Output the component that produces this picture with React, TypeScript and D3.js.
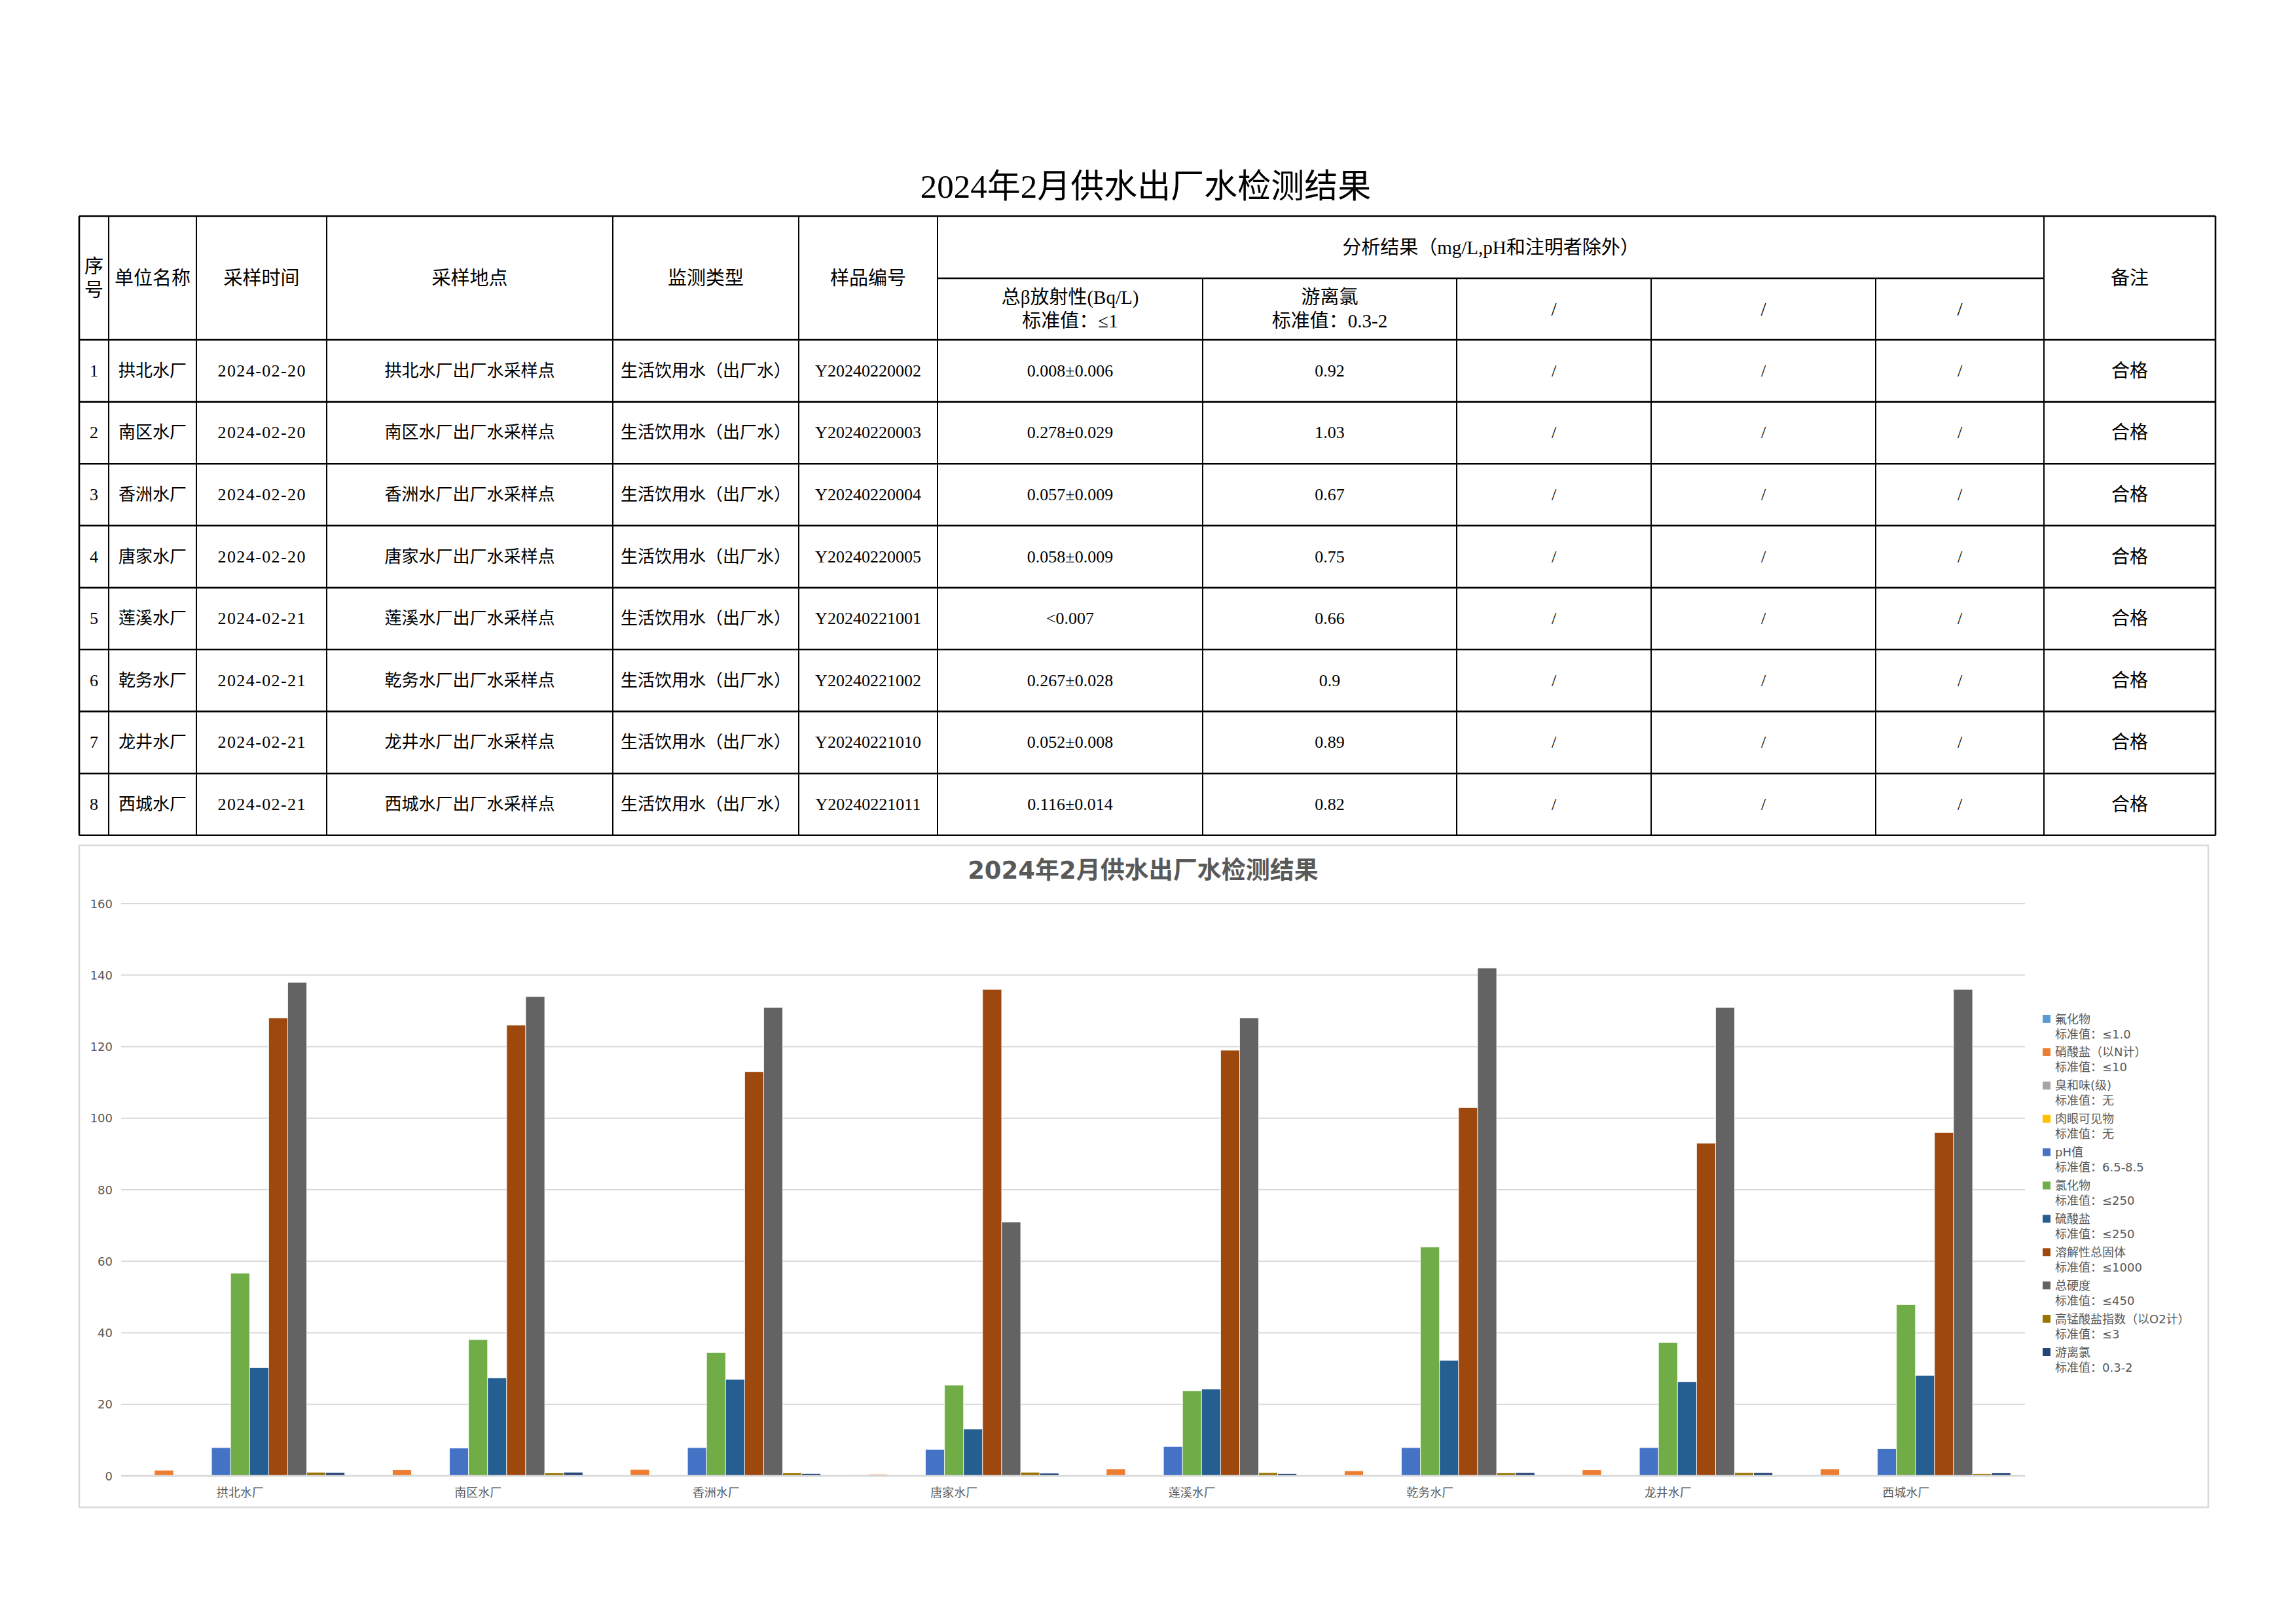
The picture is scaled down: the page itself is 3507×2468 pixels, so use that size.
import React, { useEffect } from 'react';
import * as d3 from 'd3';

// ---------- DATA ----------
const plants = ['拱北水厂', '南区水厂', '香洲水厂', '唐家水厂', '莲溪水厂', '乾务水厂', '龙井水厂', '西城水厂'];
const sampleDates = ['2024-02-20', '2024-02-20', '2024-02-20', '2024-02-20', '2024-02-21', '2024-02-21', '2024-02-21', '2024-02-21'];
const samplePoints = ['拱北水厂出厂水采样点', '南区水厂出厂水采样点', '香洲水厂出厂水采样点', '唐家水厂出厂水采样点', '莲溪水厂出厂水采样点', '乾务水厂出厂水采样点', '龙井水厂出厂水采样点', '西城水厂出厂水采样点'];
const monitorTypes = ['生活饮用水（出厂水）', '生活饮用水（出厂水）', '生活饮用水（出厂水）', '生活饮用水（出厂水）', '生活饮用水（出厂水）', '生活饮用水（出厂水）', '生活饮用水（出厂水）', '生活饮用水（出厂水）'];
const sampleIds = ['Y20240220002', 'Y20240220003', 'Y20240220004', 'Y20240220005', 'Y20240221001', 'Y20240221002', 'Y20240221010', 'Y20240221011'];
const betaValues = ['0.008±0.006', '0.278±0.029', '0.057±0.009', '0.058±0.009', '<0.007', '0.267±0.028', '0.052±0.008', '0.116±0.014'];
const chlorineText = ['0.92', '1.03', '0.67', '0.75', '0.66', '0.9', '0.89', '0.82'];
const remarks = ['合格', '合格', '合格', '合格', '合格', '合格', '合格', '合格'];

const seriesNames = ['氟化物', '硝酸盐（以N计）', '臭和味(级)', '肉眼可见物', 'pH值', '氯化物', '硫酸盐', '溶解性总固体', '总硬度', '高锰酸盐指数（以O2计）', '游离氯'];
const seriesStandards = ['标准值：≤1.0', '标准值：≤10', '标准值：无', '标准值：无', '标准值：6.5-8.5', '标准值：≤250', '标准值：≤250', '标准值：≤1000', '标准值：≤450', '标准值：≤3', '标准值：0.3-2'];
const seriesColors = ['#5B9BD5', '#ED7D31', '#A5A5A5', '#FFC000', '#4472C4', '#70AD47', '#255E91', '#9E480E', '#636363', '#997300', '#264478'];

const fluoride = [0, 0, 0, 0.2, 0, 0, 0.2, 0];
const nitrate = [1.6, 1.7, 1.8, 0.4, 1.9, 1.4, 1.7, 1.9];
const odor = [0, 0, 0, 0, 0, 0, 0, 0];
const visibleMatter = [0, 0, 0, 0, 0, 0, 0, 0];
const ph = [7.9, 7.8, 7.9, 7.4, 8.2, 7.9, 7.9, 7.6];
const chloride = [56.7, 38.1, 34.5, 25.4, 23.8, 64.0, 37.3, 47.9];
const sulfate = [30.3, 27.4, 27.0, 13.1, 24.3, 32.3, 26.3, 28.1];
const tds = [128, 126, 113, 136, 119, 103, 93, 96];
const hardness = [138, 134, 131, 71, 128, 142, 131, 136];
const permanganate = [1.0, 0.8, 0.8, 1.0, 0.9, 0.8, 0.9, 0.6];
const freeChlorine = [0.92, 1.03, 0.67, 0.75, 0.66, 0.9, 0.89, 0.82];

const seriesValues = [fluoride, nitrate, odor, visibleMatter, ph, chloride, sulfate, tds, hardness, permanganate, freeChlorine];
const yTicks = [0, 20, 40, 60, 80, 100, 120, 140, 160];

const pageTitle = '2024年2月供水出厂水检测结果';
const chartTitle = '2024年2月供水出厂水检测结果';

// ---------- LAYOUT ----------
const W = 3507;
const H = 2468;
const tableFont = '"Liberation Serif", "Noto Sans CJK SC", serif';
const chartFont = '"DejaVu Sans", "Noto Sans CJK SC", sans-serif';

const cols = [121, 166, 300, 499, 936, 1220, 1432, 1837, 2225, 2522, 2865, 3122, 3384];
const tTop = 330;
const tMid = 425;
const tHead = 519;
const rowH = 94.6;

const plotL = 185;
const plotR = 3093;
const plotTop = 1380;
const plotBottom = 2254;

export default function App() {
  useEffect(() => {
    document.body.style.margin = '0';
    document.body.style.overflow = 'hidden';
  }, []);

  const x0 = d3.scaleBand<string>().domain(plants).range([plotL, plotR]).paddingInner(0.12).paddingOuter(0.06);
  const x1 = d3.scaleBand<number>().domain(d3.range(seriesNames.length)).range([0, x0.bandwidth()]).padding(0);
  const y = d3.scaleLinear().domain([0, 160]).range([plotBottom, plotTop]);

  const tableBottom = tHead + rowH * plants.length;
  const cx = (i: number) => (cols[i] + cols[i + 1]) / 2;
  const rowCenter = (r: number) => tHead + rowH * (r + 0.5);

  const headerLeft: { c: number; lines: string[] }[] = [
    { c: 0, lines: ['序', '号'] },
    { c: 1, lines: ['单位名称'] },
    { c: 2, lines: ['采样时间'] },
    { c: 3, lines: ['采样地点'] },
    { c: 4, lines: ['监测类型'] },
    { c: 5, lines: ['样品编号'] },
  ];
  const subHeaders: string[][] = [
    ['总β放射性(Bq/L)', '标准值：≤1'],
    ['游离氯', '标准值：0.3-2'],
    ['/'],
    ['/'],
    ['/'],
  ];

  return (
    <div style={{ position: 'fixed', left: 0, top: 0 }}>
      <svg width={W} height={H} style={{ display: 'block', background: '#fff' }}>
        <rect x={0} y={0} width={W} height={H} fill="#fff" />
        {/* Page title */}
        <text x={1750} y={285} textAnchor="middle" dominantBaseline="central" fontFamily={tableFont} fontSize={51} fill="#000">
          {pageTitle}
        </text>

        {/* Table lines */}
        <g stroke="#000" fill="none">
          <line x1={cols[0]} x2={cols[12]} y1={tTop} y2={tTop} strokeWidth={2.6} />
          <line x1={cols[6]} x2={cols[11]} y1={tMid} y2={tMid} strokeWidth={2.4} />
          {d3.range(plants.length + 1).map((r) => (
            <line key={'h' + r} x1={cols[0]} x2={cols[12]} y1={tHead + r * rowH} y2={tHead + r * rowH} strokeWidth={2.6} />
          ))}
          {cols.map((c, i) => {
            const full = i <= 6 || i >= 11;
            return (
              <line
                key={'v' + i}
                x1={c}
                x2={c}
                y1={full ? tTop : tMid}
                y2={tableBottom}
                strokeWidth={i === 0 || i === 12 ? 2.6 : 2}
              />
            );
          })}
        </g>

        {/* Table header text */}
        <g fontFamily={tableFont} fontSize={29} fill="#000" textAnchor="middle">
          {headerLeft.map((h) =>
            h.lines.map((ln, k) => (
              <text key={h.c + '-' + k} x={cx(h.c)} y={(tTop + tHead) / 2 + (k - (h.lines.length - 1) / 2) * 36} dominantBaseline="central">
                {ln}
              </text>
            ))
          )}
          <text x={(cols[6] + cols[11]) / 2} y={(tTop + tMid) / 2} dominantBaseline="central">
            分析结果（mg/L,pH和注明者除外）
          </text>
          {subHeaders.map((lines, j) =>
            lines.map((ln, k) => (
              <text key={'s' + j + k} x={cx(6 + j)} y={(tMid + tHead) / 2 + (k - (lines.length - 1) / 2) * 36} dominantBaseline="central">
                {ln}
              </text>
            ))
          )}
          <text x={cx(11)} y={(tTop + tHead) / 2} dominantBaseline="central">
            备注
          </text>
        </g>

        {/* Table body */}
        <g fontFamily={tableFont} fontSize={26} fill="#000" textAnchor="middle">
          {plants.map((p, r) => {
            const cells = [String(r + 1), p, sampleDates[r], samplePoints[r], monitorTypes[r], sampleIds[r], betaValues[r], chlorineText[r], '/', '/', '/', remarks[r]];
            return cells.map((t, c) => (
              <text
                key={r + '-' + c}
                x={cx(c)}
                y={rowCenter(r)}
                dominantBaseline="central"
                fontSize={c === 11 ? 28 : 26}
                textLength={c === 2 ? 134 : undefined}
                lengthAdjust={c === 2 ? 'spacing' : undefined}
              >
                {t}
              </text>
            ));
          })}
        </g>

        {/* Chart box */}
        <rect x={121} y={1291} width={3252} height={1011} fill="#fff" stroke="#d9d9d9" strokeWidth={2.5} />
        <text x={1746} y={1329} textAnchor="middle" dominantBaseline="central" fontFamily={chartFont} fontWeight="bold" fontSize={37} fill="#595959">
          {chartTitle}
        </text>

        {/* Gridlines */}
        <g>
          {yTicks.map((t) => (
            <line key={'g' + t} x1={plotL} x2={plotR} y1={y(t)} y2={y(t)} stroke="#d9d9d9" strokeWidth={t === 0 ? 2.5 : 2} />
          ))}
        </g>
        {/* Y tick labels */}
        <g fontFamily={chartFont} fontSize={18} fill="#595959" textAnchor="end">
          {yTicks.map((t) => (
            <text key={'yt' + t} x={172} y={y(t)} dominantBaseline="central">
              {t}
            </text>
          ))}
        </g>

        {/* Bars */}
        <g>
          {plants.map((p, gi) => (
            <g key={'grp' + gi} transform={`translate(${x0(p)},0)`}>
              {seriesValues.map((vals, si) => {
                const v = vals[gi];
                if (!v) return null;
                return (
                  <rect
                    key={'b' + si}
                    x={x1(si)}
                    y={y(v)}
                    width={x1.bandwidth()}
                    height={y(0) - y(v)}
                    fill={seriesColors[si]}
                    stroke="#fff"
                    strokeWidth={0.8}
                  />
                );
              })}
            </g>
          ))}
        </g>
        <line x1={plotL} x2={plotR} y1={y(0)} y2={y(0)} stroke="#d9d9d9" strokeWidth={2.5} />

        {/* Category labels */}
        <g fontFamily={chartFont} fontSize={18} fill="#595959" textAnchor="middle">
          {plants.map((p) => (
            <text key={'cl' + p} x={(x0(p) as number) + x0.bandwidth() / 2} y={2279} dominantBaseline="central">
              {p}
            </text>
          ))}
        </g>

        {/* Legend */}
        <g fontFamily={chartFont} fontSize={18} fill="#595959">
          {seriesNames.map((n, i) => {
            const yy = 1556 + i * 50.9;
            return (
              <g key={'lg' + i}>
                <rect x={3120} y={yy - 6} width={12} height={12} fill={seriesColors[i]} />
                <text x={3139} y={yy} dominantBaseline="central">
                  {n}
                </text>
                <text x={3139} y={yy + 23} dominantBaseline="central">
                  {seriesStandards[i]}
                </text>
              </g>
            );
          })}
        </g>
      </svg>
    </div>
  );
}
